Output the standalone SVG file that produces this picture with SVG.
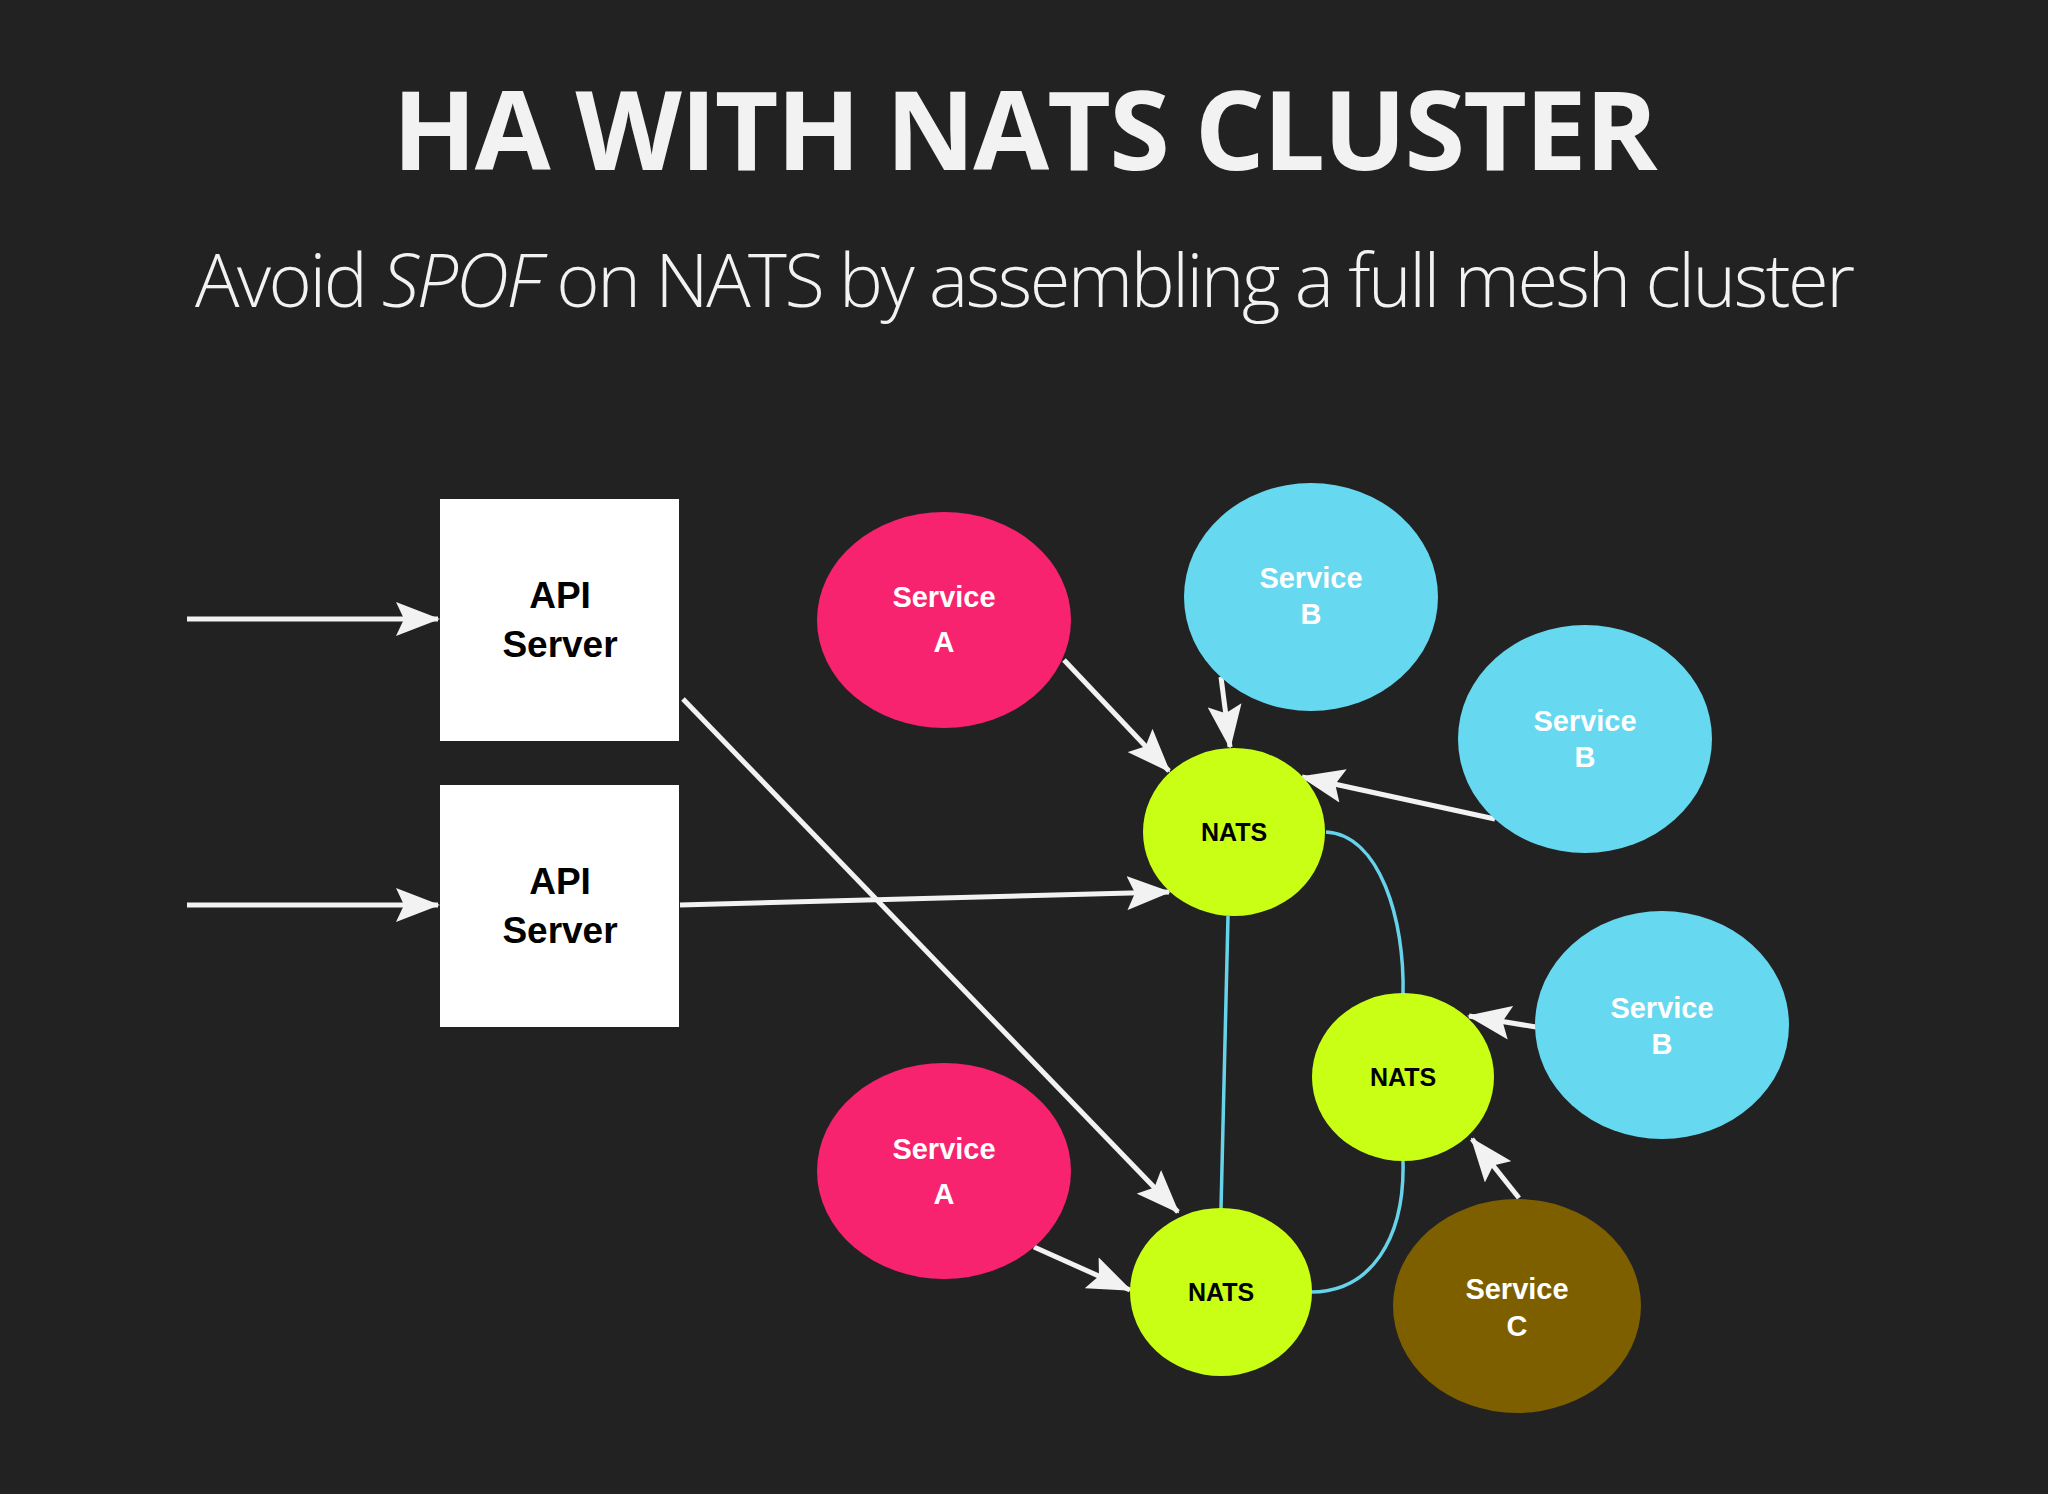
<svg xmlns="http://www.w3.org/2000/svg" width="2048" height="1494" viewBox="0 0 2048 1494">
<defs>
<style>
.c{fill:none;stroke:#f2f2f2;stroke-width:5}
.l{fill:none;stroke:#66d3ea;stroke-width:3.5}
.t{font-family:"Liberation Sans",Arial,sans-serif;font-weight:bold;text-anchor:middle}
.w{fill:#fff;font-size:29px}
.n{fill:#000;font-size:25px}
.a{fill:#000;font-size:37px}
</style>
<marker id="ar" markerUnits="userSpaceOnUse" markerWidth="44" markerHeight="34" refX="42" refY="17" orient="auto">
<path d="M0,0 L44,17 L0,34 L8,17 Z" fill="#f2f2f2"/>
</marker>
</defs>
<rect width="2048" height="1494" fill="#222222"/>
<text x="1025" y="170" font-family="Open Sans,sans-serif" font-weight="bold" font-size="110" fill="#f2f2f2" text-anchor="middle" textLength="1265">HA WITH NATS CLUSTER</text>
<text x="1025" y="307" font-family="Open Sans,sans-serif" font-weight="300" font-size="74" fill="#f2f2f2" text-anchor="middle" textLength="1660">Avoid <tspan font-style="italic">SPOF</tspan> on NATS by assembling a full mesh cluster</text>
<g id="connectors">
<line class="c" x1="187" y1="619" x2="438" y2="619" marker-end="url(#ar)"/>
<line class="c" x1="187" y1="905" x2="438" y2="905" marker-end="url(#ar)"/>
<line class="c" x1="1064" y1="660" x2="1169" y2="771" marker-end="url(#ar)"/>
<line class="c" x1="1221" y1="677" x2="1230" y2="747" marker-end="url(#ar)"/>
<line class="c" x1="1495" y1="819" x2="1302" y2="777" marker-end="url(#ar)"/>
<line class="c" x1="680" y1="905" x2="1169" y2="892" marker-end="url(#ar)"/>
<line class="c" x1="683" y1="699" x2="1178" y2="1212" marker-end="url(#ar)"/>
<line class="c" x1="1034" y1="1247" x2="1130" y2="1290" marker-end="url(#ar)"/>
<line class="c" x1="1536" y1="1027" x2="1469" y2="1016" marker-end="url(#ar)"/>
<line class="c" x1="1519" y1="1198" x2="1472" y2="1139" marker-end="url(#ar)"/>
<line class="l" x1="1228" y1="916" x2="1221" y2="1209"/>
<path class="l" d="M1326,832 C1380,835 1405,920 1403,995"/>
<path class="l" d="M1311,1292 C1370,1292 1405,1240 1403,1161"/>
</g>
<g id="api1"><rect x="440" y="499" width="239" height="242" fill="#fff"/><text class="t a" x="560" y="608">API</text><text class="t a" x="560" y="657">Server</text></g>
<g id="api2"><rect x="440" y="785" width="239" height="242" fill="#fff"/><text class="t a" x="560" y="894">API</text><text class="t a" x="560" y="943">Server</text></g>
<g id="svcA1"><ellipse cx="944" cy="620" rx="127" ry="108" fill="#f7236e"/><text class="t w" x="944" y="607">Service</text><text class="t w" x="944" y="652">A</text></g>
<g id="svcB1"><ellipse cx="1311" cy="597" rx="127" ry="114" fill="#66d8ef"/><text class="t w" x="1311" y="588">Service</text><text class="t w" x="1311" y="624">B</text></g>
<g id="svcB2"><ellipse cx="1585" cy="739" rx="127" ry="114" fill="#66d8ef"/><text class="t w" x="1585" y="731">Service</text><text class="t w" x="1585" y="767">B</text></g>
<g id="svcB3"><ellipse cx="1662" cy="1025" rx="127" ry="114" fill="#66d8ef"/><text class="t w" x="1662" y="1018">Service</text><text class="t w" x="1662" y="1054">B</text></g>
<g id="svcA2"><ellipse cx="944" cy="1171" rx="127" ry="108" fill="#f7236e"/><text class="t w" x="944" y="1159">Service</text><text class="t w" x="944" y="1204">A</text></g>
<g id="svcC"><ellipse cx="1517" cy="1306" rx="124" ry="107" fill="#7d5f00"/><text class="t w" x="1517" y="1299">Service</text><text class="t w" x="1517" y="1336">C</text></g>
<g id="nats1"><ellipse cx="1234" cy="832" rx="91" ry="84" fill="#c8ff14"/><text class="t n" x="1234" y="841">NATS</text></g>
<g id="nats2"><ellipse cx="1403" cy="1077" rx="91" ry="84" fill="#c8ff14"/><text class="t n" x="1403" y="1086">NATS</text></g>
<g id="nats3"><ellipse cx="1221" cy="1292" rx="91" ry="84" fill="#c8ff14"/><text class="t n" x="1221" y="1301">NATS</text></g>
</svg>
